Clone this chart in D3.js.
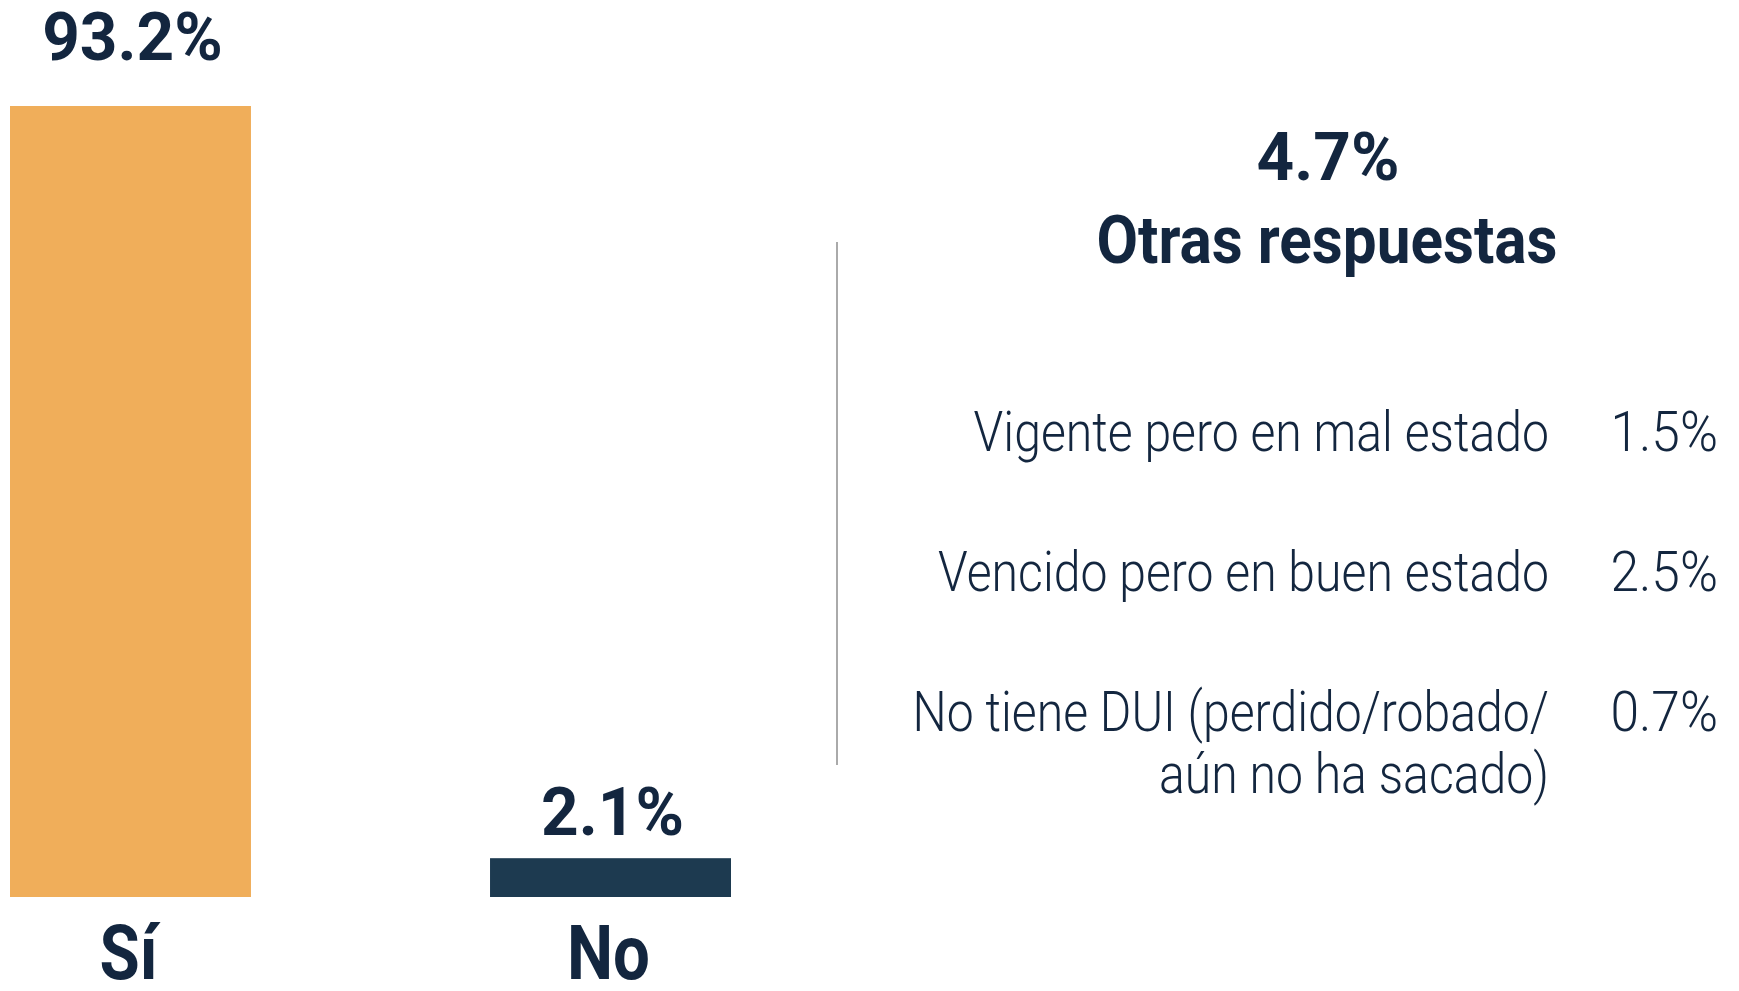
<!DOCTYPE html>
<html>
<head>
<meta charset="utf-8">
<script src="https://cdn.jsdelivr.net/npm/d3@7"></script>
<style>
  html, body { margin: 0; padding: 0; background: #fff; }
  svg { display: block; }
  text { font-family: Roboto, "Open Sans", sans-serif; fill: #13263f; }
</style>
</head>
<body>
<div id="chart"></div>
<script>
// DUI status chart: big bars on the left, breakdown of "otras respuestas" on the right

const width = 1739;
const height = 991;

// data
const mainCats = ["Sí", "No"];
const mainValues = [93.2, 2.1];
const mainColors = ["#f0ae5a", "#1d3a50"];

const otherTitle = "Otras respuestas";
const otherTotal = 4.7;
const otherLabels = [
  ["Vigente pero en mal estado"],
  ["Vencido pero en buen estado"],
  ["No tiene DUI (perdido/robado/", "aún no ha sacado)"]
];
const otherValues = [1.5, 2.5, 0.7];

const fmt = d => d.toFixed(1) + "%";

const svg = d3.select("#chart")
  .append("svg")
  .attr("width", width)
  .attr("height", height);

// condensed look: squeeze the text horizontally
function condText(g, x, y, str, opts) {
  return g.append("text")
    .attr("transform", `translate(${x},${y}) scale(${opts.sx},1)`)
    .attr("text-anchor", opts.anchor || "middle")
    .attr("font-size", opts.size)
    .attr("font-weight", opts.weight)
    .text(str);
}

/* left side: bars */

let xScale = d3.scaleBand()
  .domain(mainCats)
  .range([10, 731])
  .paddingInner(0.498)
  .paddingOuter(0);

// floor a bit below zero so the small "No" bar stays visible, as in the original
let yScale = d3.scaleLinear()
  .domain([-2.6, 93.2])
  .range([897, 106]);

const baseY = yScale(yScale.domain()[0]);

const left = svg.append("g");

left.selectAll(".bar")
  .data(mainValues)
  .enter()
  .append("rect")
    .attr("class", "bar")
    .attr("x", (d, i) => xScale(mainCats[i]))
    .attr("y", d => yScale(d))
    .attr("width", xScale.bandwidth())
    .attr("height", d => baseY - yScale(d))
    .attr("fill", (d, i) => mainColors[i]);

mainValues.forEach((d, i) => {
  const cx = xScale(mainCats[i]) + xScale.bandwidth() / 2;
  // the tall bar's label sits a little higher above it
  const gap = i === 0 ? 46 : 23;
  condText(left, cx + 2, yScale(d) - gap, fmt(d), {size: 67, weight: 700, sx: 0.98});
  condText(left, cx - 2, baseY + 82, mainCats[i], {size: 76, weight: 700, sx: 0.86});
});

/* divider */
svg.append("line")
  .attr("x1", 837).attr("x2", 837)
  .attr("y1", 242).attr("y2", 765)
  .attr("stroke", "#aaaaaa")
  .attr("stroke-width", 2);

/* right side: breakdown */

const right = svg.append("g");
condText(right, 1328, 180, fmt(otherTotal), {size: 67, weight: 700, sx: 0.98});
condText(right, 1327, 263, otherTitle, {size: 67, weight: 700, sx: 0.9});

let rowScale = d3.scalePoint()
  .domain(d3.range(otherValues.length))
  .range([451, 731]);

otherValues.forEach((v, i) => {
  const y = rowScale(i);
  otherLabels[i].forEach((line, j) => {
    condText(right, 1549, y + j * 62, line, {size: 56, weight: 300, sx: 0.86, anchor: "end"});
  });
  condText(right, 1718, y, fmt(v), {size: 56, weight: 300, sx: 0.92, anchor: "end"});
});
</script>
</body>
</html>
